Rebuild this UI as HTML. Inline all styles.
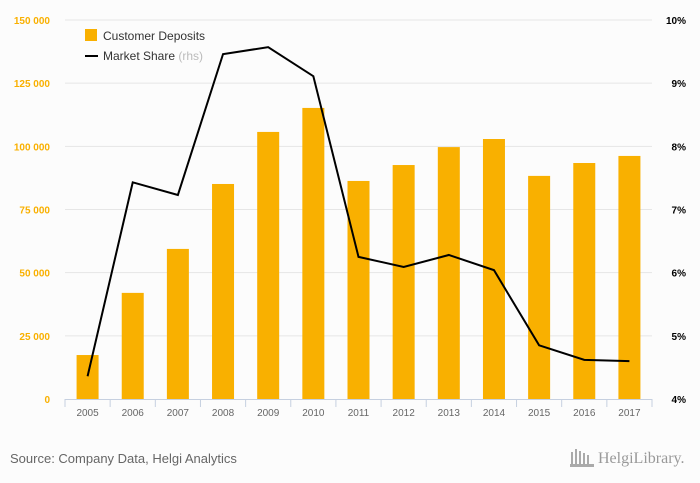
<!DOCTYPE html>
<html><head><meta charset="utf-8"><style>
body{margin:0;width:700px;height:483px;overflow:hidden;background:#fcfcfc;font-family:"Liberation Sans",sans-serif}
</style></head><body>
<svg id="chart" width="700" height="483" style="position:absolute;left:0;top:0">
<g id="grid"></g><g id="bars"></g><g id="axes"></g><g id="line"></g>
<g>
<rect x="85" y="29" width="12" height="12" fill="#f9b000"/>
<text x="103" y="40" font-size="12" fill="#333">Customer Deposits</text>
<line x1="85" y1="56" x2="98" y2="56" stroke="#000" stroke-width="2"/>
<text x="103" y="60" font-size="12" fill="#333">Market Share <tspan fill="#bbb">(rhs)</tspan></text>
</g>
<text x="10" y="463" font-size="13" fill="#666">Source: Company Data, Helgi Analytics</text>
<text x="598" y="463" font-size="16" fill="#999" font-family="Liberation Serif,serif">HelgiLibrary.</text>
<g fill="#aaa"><rect x="571" y="452" width="2" height="14"/><rect x="575" y="449" width="2" height="17"/><rect x="579" y="451" width="2" height="15"/><rect x="583" y="453" width="2" height="13"/><rect x="587" y="455" width="2" height="11"/><rect x="570" y="464" width="24" height="3"/></g>
</svg>
<script>
const years=["2005","2006","2007","2008","2009","2010","2011","2012","2013","2014","2015","2016","2017"];
const deposits=[17400,42000,59400,85100,105700,115200,86300,92600,99700,102900,88300,93400,96200];
const share=[4.36,7.43,7.23,9.46,9.57,9.11,6.25,6.09,6.28,6.04,4.85,4.62,4.60];
const leftTicks=[0,25000,50000,75000,100000,125000,150000];
const leftLabels=["0","25 000","50 000","75 000","100 000","125 000","150 000"];
const rightTicks=[4,5,6,7,8,9,10];
const NS="http://www.w3.org/2000/svg";
const x0=65,x1=652,yb=399,yt=20;
const bw=(x1-x0)/years.length;
const xc=i=>x0+bw*(i+0.5);
const yL=v=>yb-(v/150000)*(yb-yt);
const yR=v=>yb-((v-4)/6)*(yb-yt);
function mk(t,a,p){const e=document.createElementNS(NS,t);for(const k in a)e.setAttribute(k,a[k]);p.appendChild(e);return e;}
const grid=document.getElementById('grid'),bars=document.getElementById('bars'),axes=document.getElementById('axes'),line=document.getElementById('line');
leftTicks.forEach((v,i)=>{
 if(i>0){const g=mk('line',{x1:x0,x2:x1,y1:yL(v),y2:yL(v),stroke:'#e6e6e6'},grid);
 
 }
 const t=mk('text',{x:50,y:yL(v)+4,'font-size':10,fill:'#f9b000','text-anchor':'end','font-weight':'bold'},axes);t.textContent=leftLabels[i];
 
 
});
rightTicks.forEach(v=>{
 const t=mk('text',{x:686,y:yR(v)+4,'font-size':10,fill:'#000','text-anchor':'end','font-weight':'bold'},axes);t.textContent=v+'%';
 
 
});
years.forEach((y,i)=>{
 const b=mk('rect',{x:xc(i)-11,y:yL(deposits[i]),width:22,height:yb-yL(deposits[i]),fill:'#f9b000'},bars);
 
 
 const tk=mk('line',{x1:x0+bw*i,x2:x0+bw*i,y1:yb,y2:yb+8,stroke:'#c6d0e0'},axes);
 
 
 const t=mk('text',{x:xc(i),y:416,'font-size':10,fill:'#666','text-anchor':'middle'},axes);t.textContent=y;
 
 
});
const tkl=mk('line',{x1:x1,x2:x1,y1:yb,y2:yb+8,stroke:'#c6d0e0'},axes);


const ax=mk('line',{x1:x0,x2:x1,y1:yb+0.5,y2:yb+0.5,stroke:'#c6d0e0'},axes);


const pl=mk('polyline',{points:share.map((v,i)=>xc(i)+','+yR(v)).join(' '),fill:'none',stroke:'#000','stroke-width':2},line);


</script>
</body></html>
